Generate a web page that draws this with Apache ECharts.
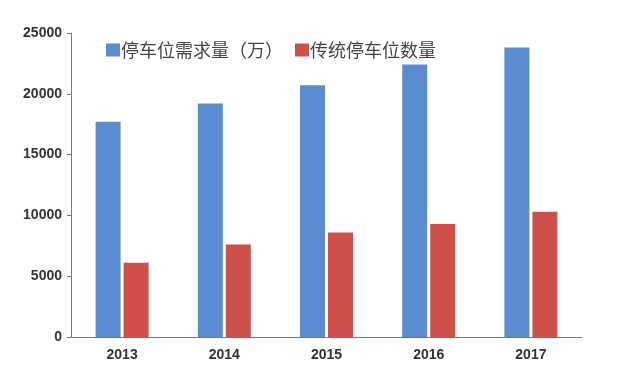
<!DOCTYPE html>
<html><head><meta charset="utf-8">
<script src="https://cdn.jsdelivr.net/npm/echarts@6/dist/echarts.min.js"></script>
<style>html,body{margin:0;padding:0;background:#fff}#c{width:640px;height:391px}</style>
</head><body><div id="c"></div>
<script>
const years = ['2013', '2014', '2015', '2016', '2017'];
const demand = [17700, 19200, 20700, 22400, 23800];
const supply = [6100, 7600, 8600, 9300, 10300];
const seriesNames = ['停车位需求量（万）', '传统停车位数量'];

const chart = echarts.init(document.getElementById('c'));
chart.setOption({
  animation: false,
  backgroundColor: '#fff',
  legend: {
    left: 101, top: 36,
    itemWidth: 14, itemHeight: 13, itemGap: 12,
    icon: 'rect',
    textStyle: { fontSize: 18, color: '#444', fontFamily: 'Noto Sans CJK SC', padding: [0, 0, 0, -4] },
    data: seriesNames
  },
  grid: { left: 71, right: 58, top: 33, bottom: 54 },
  xAxis: {
    type: 'category', data: years,
    axisLine: { lineStyle: { color: '#777' } },
    axisTick: { length: 4, lineStyle: { color: '#777' } },
    axisLabel: { fontSize: 14, fontWeight: 'bold', color: '#333', margin: 11, fontFamily: 'Liberation Sans' }
  },
  yAxis: {
    type: 'value', min: 0, max: 25000, interval: 5000,
    axisLine: { show: true, lineStyle: { color: '#777' } },
    axisTick: { show: true, length: 4, lineStyle: { color: '#777' } },
    splitLine: { show: false },
    axisLabel: { fontSize: 14, fontWeight: 'bold', color: '#333', margin: 9, fontFamily: 'Liberation Sans', formatter: v => String(v) }
  },
  series: [
    { name: seriesNames[0], type: 'bar', data: demand, barWidth: 25, barGap: '12%', itemStyle: { color: '#5B8BD0' } },
    { name: seriesNames[1], type: 'bar', data: supply, barWidth: 25, itemStyle: { color: '#CD504A' } }
  ]
});
</script></body></html>
